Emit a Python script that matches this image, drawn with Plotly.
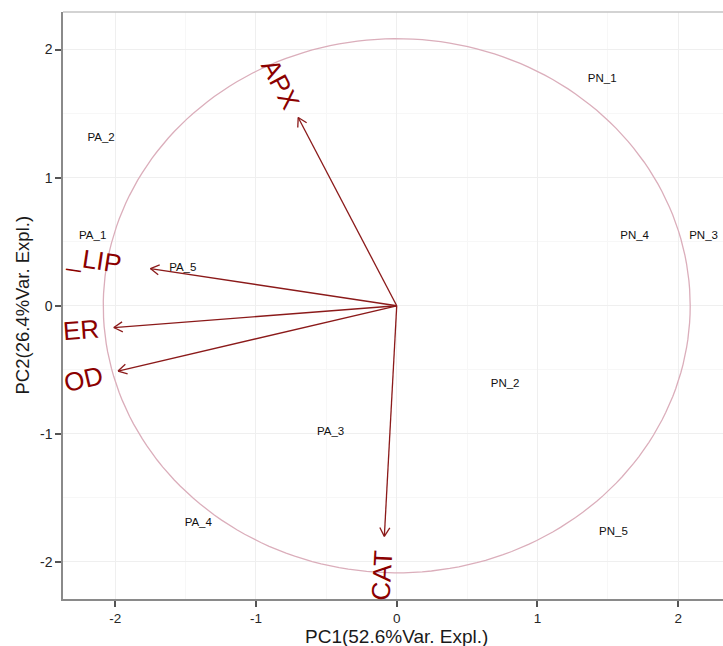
import numpy as np
import plotly.graph_objects as go

# Sample scores on the first two principal components
obs_names = ["PA_1", "PA_2", "PA_3", "PA_4", "PA_5",
             "PN_1", "PN_2", "PN_3", "PN_4", "PN_5"]
obs_pc1 = [-2.16, -2.10, -0.47, -1.41, -1.52, 1.46, 0.77, 2.18, 1.69, 1.54]
obs_pc2 = [0.54, 1.31, -0.99, -1.70, 0.29, 1.77, -0.61, 0.54, 0.54, -1.77]

# Variable loadings (arrow tips) and their labels
var_labels = ["APX", "_LIP", "ER", "OD", "CAT"]
var_pc1 = [-0.70, -1.75, -2.01, -1.98, -0.088]
var_pc2 = [1.47, 0.29, -0.17, -0.51, -1.80]

circle_radius = 2.085
tick_vals = [-2, -1, 0, 1, 2]
tick_text = ["-2", "-1", "0", "1", "2"]
x_title = "PC1(52.6%Var. Expl.)"
y_title = "PC2(26.4%Var. Expl.)"

# ---- layout geometry ----
W, H = 723, 646
M = dict(l=63, r=0, t=12, b=47)
x_range = [-2.371, 2.318]
y_range = [-2.289, 2.293]
plot_w = W - M["l"] - M["r"]
plot_h = H - M["t"] - M["b"]
sx = plot_w / (x_range[1] - x_range[0])   # px per unit along PC1
sy = plot_h / (y_range[1] - y_range[0])   # px per unit along PC2

FONT = "Liberation Sans, Arial, sans-serif"
ARROW_COL = "#8b1a1a"
LABEL_COL = "#8b0000"
label_gap_px = [38, 57, 33, 35, 39]
head_len_px = 10
head_angle = np.radians(30)

fig = go.Figure()

# correlation circle
theta = np.linspace(0, 2 * np.pi, 200)
fig.add_trace(go.Scatter(
    x=circle_radius * np.cos(theta), y=circle_radius * np.sin(theta),
    mode="lines", line=dict(color="#dbaebb", width=1.3),
    hoverinfo="skip", showlegend=False))

# arrows: shaft from origin plus an open head
ax_pts, ay_pts = [], []
for vx, vy in zip(var_pc1, var_pc2):
    ax_pts += [0, vx, None]
    ay_pts += [0, vy, None]
    dpx, dpy = vx * sx, vy * sy
    n = np.hypot(dpx, dpy)
    bx, by = -dpx / n, -dpy / n
    for s in (1, -1):
        c, si = np.cos(s * head_angle), np.sin(s * head_angle)
        hx = bx * c - by * si
        hy = bx * si + by * c
        ax_pts += [vx + hx * head_len_px / sx, vx, None]
        ay_pts += [vy + hy * head_len_px / sy, vy, None]
fig.add_trace(go.Scatter(
    x=ax_pts, y=ay_pts, mode="lines",
    line=dict(color=ARROW_COL, width=1.3),
    hoverinfo="skip", showlegend=False))

# sample labels
fig.add_trace(go.Scatter(
    x=obs_pc1, y=obs_pc2, mode="text", text=obs_names,
    textposition="middle center",
    textfont=dict(family=FONT, size=11.5, color="#111111"),
    showlegend=False))

# variable labels, rotated along their arrows
annotations = []
for lab, vx, vy, gap in zip(var_labels, var_pc1, var_pc2, label_gap_px):
    dpx, dpy = vx * sx, vy * sy
    n = np.hypot(dpx, dpy)
    ang = np.degrees(np.arctan(-dpy / dpx))
    annotations.append(dict(
        x=vx, y=vy, xref="x", yref="y", text=lab, showarrow=False,
        xshift=gap * dpx / n, yshift=gap * dpy / n,
        textangle=ang, xanchor="center", yanchor="middle",
        font=dict(family=FONT, size=26, color=LABEL_COL)))

# axis titles
annotations.append(dict(
    x=(396.7 - M["l"]) / plot_w, y=0, xref="paper", yref="paper",
    yshift=-37, text=x_title, showarrow=False,
    xanchor="center", yanchor="middle",
    font=dict(family=FONT, size=19, color="#1a1a1a")))
annotations.append(dict(
    x=0, y=0.5, xref="paper", yref="paper", xshift=-41,
    text=y_title, showarrow=False, textangle=-90,
    xanchor="center", yanchor="middle",
    font=dict(family=FONT, size=18.5, color="#1a1a1a")))

axis_common = dict(
    showgrid=True, gridcolor="#efefef", gridwidth=1,
    minor=dict(dtick=0.5, showgrid=True, gridcolor="#f7f7f7", gridwidth=1),
    zeroline=False, showline=True, linecolor="#8a8a8a", linewidth=1.5,
    ticks="outside", ticklen=6, tickwidth=1.5, tickcolor="#555555",
    tickmode="array", tickvals=tick_vals, ticktext=tick_text,
)

fig.update_layout(
    width=W, height=H, margin=M,
    paper_bgcolor="white", plot_bgcolor="white",
    xaxis=dict(range=x_range, ticklabelstandoff=0,
               tickfont=dict(family=FONT, size=13.5, color="#262626"),
               **axis_common),
    yaxis=dict(range=y_range,
               tickfont=dict(family=FONT, size=14, color="#262626"),
               **axis_common),
    annotations=annotations,
    shapes=[dict(type="line", xref="paper", yref="paper",
                 x0=0, x1=1, y0=1, y1=1,
                 line=dict(color="#c4c4c4", width=1.5))],
    showlegend=False,
)

fig.write_html("out.html")
